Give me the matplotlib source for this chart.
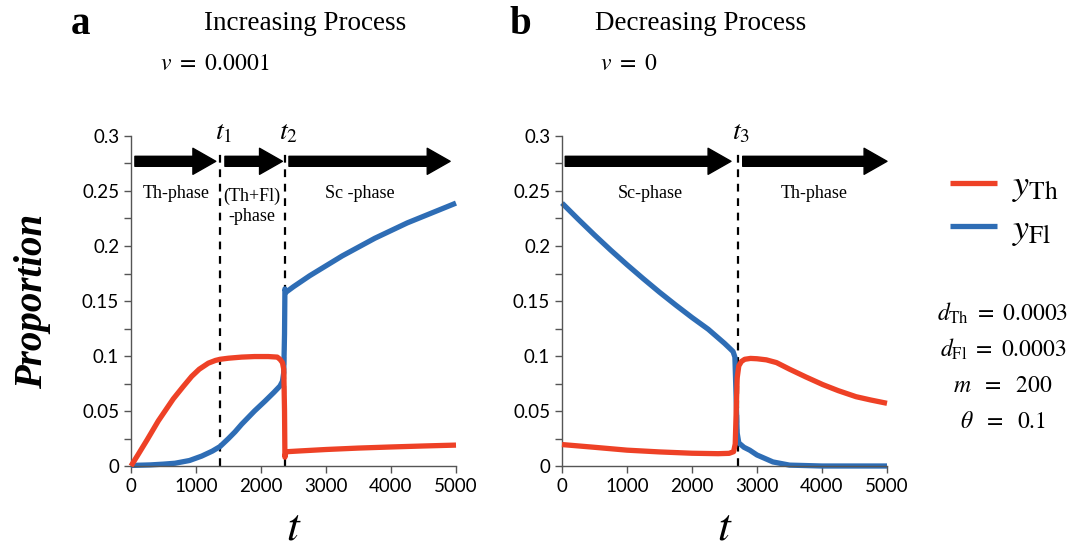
import numpy as np
import matplotlib.pyplot as plt

plt.rcParams['mathtext.fontset'] = 'stix'
plt.rcParams['font.family'] = ['Lato', 'DejaVu Sans']

# ---- data ----
# increasing process (v = 0.0001)
t_inc_th = [0, 100, 250, 420, 650, 800, 934, 1050, 1190, 1300, 1370, 1500, 1703, 1900, 2113, 2250, 2292, 2330, 2350,
            2362, 2368, 2380, 2395, 2600, 3000, 3500, 4000, 4500, 5000]
y_inc_th = [0, 0.0095, 0.024, 0.041, 0.061, 0.072, 0.0815, 0.088, 0.0935, 0.096, 0.097, 0.098, 0.099, 0.0995, 0.0995,
            0.099, 0.097, 0.094, 0.088, 0.05, 0.008, 0.012, 0.013, 0.0137, 0.015, 0.0163, 0.0173, 0.0182, 0.019]
t_inc_fl = [0, 300, 500, 677, 900, 1087, 1250, 1370, 1500, 1600, 1703, 1900, 2062, 2200, 2292, 2330, 2350, 2362, 2368,
            2385, 2500, 2750, 3000, 3250, 3500, 3750, 4000, 4250, 4500, 4750, 5000]
y_inc_fl = [0.0005, 0.001, 0.0017, 0.0025, 0.005, 0.009, 0.0135, 0.0177, 0.025, 0.031, 0.038, 0.05, 0.059, 0.067,
            0.0727, 0.077, 0.085, 0.12, 0.161, 0.158, 0.163, 0.173, 0.182, 0.191, 0.199, 0.207, 0.214, 0.221, 0.227,
            0.233, 0.239]

# decreasing process (v = 0)
t_dec_th = [0, 500, 1000, 1500, 2000, 2400, 2570, 2640, 2665, 2680, 2695, 2720, 2760, 2811, 2900, 3000, 3144, 3300,
            3501, 3750, 4012, 4250, 4524, 4750, 5000]
y_dec_th = [0.0195, 0.017, 0.0144, 0.0128, 0.0116, 0.0112, 0.0115, 0.013, 0.02, 0.05, 0.08, 0.091, 0.095, 0.097,
            0.0978, 0.0975, 0.0965, 0.094, 0.088, 0.081, 0.074, 0.0685, 0.063, 0.06, 0.057]
t_dec_fl = [0, 250, 500, 750, 1000, 1250, 1500, 1750, 2000, 2250, 2500, 2580, 2632, 2660, 2680, 2695, 2720, 2800,
            2888, 3000, 3245, 3500, 4000, 5000]
y_dec_fl = [0.239, 0.2243, 0.210, 0.1962, 0.183, 0.1703, 0.158, 0.1463, 0.135, 0.1243, 0.1115, 0.107, 0.104, 0.099,
            0.06, 0.03, 0.021, 0.017, 0.0144, 0.010, 0.0037, 0.0008, 0.0, 0.0]

t1, t2, t3 = 1370, 2370, 2700

red = '#EE4126'
blue = '#2E6DB5'
serif = ['Liberation Serif', 'DejaVu Serif']

fig = plt.figure(figsize=(10.84, 5.5), dpi=100)
ax1 = fig.add_axes([131 / 1084, 84 / 550, 325 / 1084, 330 / 550])
ax2 = fig.add_axes([562 / 1084, 84 / 550, 325 / 1084, 330 / 550])


def style(ax):
    ax.set_xlim(0, 5000)
    ax.set_ylim(0, 0.3)
    for s in ['top', 'right']:
        ax.spines[s].set_visible(False)
    for s in ['left', 'bottom']:
        ax.spines[s].set_color('#555555')
        ax.spines[s].set_linewidth(1.0)
    ax.set_xticks([0, 1000, 2000, 3000, 4000, 5000])
    ax.set_xticklabels(['0', '1000', '2000', '3000', '4000', '5000'])
    ax.set_yticks([0, 0.05, 0.1, 0.15, 0.2, 0.25, 0.3])
    ax.set_yticklabels(['0', '0.05', '0.1', '0.15', '0.2', '0.25', '0.3'])
    ax.set_yticks(np.arange(0.025, 0.3, 0.05), minor=True)
    ax.tick_params(which='both', direction='out', color='#555555', labelsize=13.5, width=1.0)
    ax.tick_params(which='major', length=5)
    ax.tick_params(which='minor', length=5)
    ax.set_xlabel('$t$', fontsize=33, labelpad=8)


def phase_arrow(ax, x0, x1, y=0.277):
    ax.annotate('', xy=(x1, y), xytext=(x0, y),
                arrowprops=dict(arrowstyle='simple,head_width=1.25,head_length=1.1,tail_width=0.48',
                                mutation_scale=15, color='black', shrinkA=0, shrinkB=0),
                annotation_clip=False)


def tline(ax, t, lab):
    ax.plot([t, t], [0, 0.287], ls=(0, (3.5, 3)), color='black', lw=1.6, zorder=1)
    ax.text(t + 50, 0.292, lab, fontsize=20, ha='center', va='bottom')


style(ax1)
style(ax2)

l1, = ax1.plot(t_inc_th, y_inc_th, color=red, lw=3.8, clip_on=False, zorder=3, solid_capstyle='butt')
l2, = ax1.plot(t_inc_fl, y_inc_fl, color=blue, lw=3.8, clip_on=False, zorder=2, solid_capstyle='butt')
ax2.plot(t_dec_fl, y_dec_fl, color=blue, lw=3.8, clip_on=False, zorder=2, solid_capstyle='butt')
ax2.plot(t_dec_th, y_dec_th, color=red, lw=3.8, clip_on=False, zorder=3, solid_capstyle='butt')

tline(ax1, t1, '$t_1$')
tline(ax1, t2, '$t_2$')
tline(ax2, t3, '$t_3$')

gap = 65
phase_arrow(ax1, 60, t1 - gap)
phase_arrow(ax1, t1 + 75, t2 - 40)
phase_arrow(ax1, t2 + 60, 4910)
phase_arrow(ax2, 50, t3 - 100)
phase_arrow(ax2, t3 + 80, 5000)

ax1.text(700, 0.248, 'Th-phase', family=serif, fontsize=13, ha='center', va='center')
ax1.text(1860, 0.236, '(Th+Fl)\n-phase', family=serif, fontsize=13, ha='center', va='center', linespacing=1.2)
ax1.text(3520, 0.248, 'Sc -phase', family=serif, fontsize=13, ha='center', va='center')
ax2.text(1355, 0.248, 'Sc-phase', family=serif, fontsize=13, ha='center', va='center')
ax2.text(3885, 0.248, 'Th-phase', family=serif, fontsize=13, ha='center', va='center')

ax1.set_ylabel('Proportion', family=serif, fontsize=28, fontweight='bold', style='italic', labelpad=22)

# titles
fig.text(80 / 1084, 1 - 24 / 550, 'a', family=serif, fontsize=28, fontweight='bold', ha='center', va='center')
fig.text(305 / 1084, 1 - 24 / 550, 'Increasing Process', family=serif, fontsize=19.5, ha='center', va='center')
fig.text(160 / 1084, 1 - 63 / 550, r'$v\ =\ 0.0001$', fontsize=17, ha='left', va='center')
fig.text(520 / 1084, 1 - 24 / 550, 'b', family=serif, fontsize=28, fontweight='bold', ha='center', va='center')
fig.text(701 / 1084, 1 - 24 / 550, 'Decreasing Process', family=serif, fontsize=19.5, ha='center', va='center')
fig.text(600 / 1084, 1 - 63 / 550, r'$v\ =\ 0$', fontsize=17, ha='left', va='center')

# legend
fig.legend([l1, l2], [r'$y_{\mathrm{Th}}$', r'$y_{\mathrm{Fl}}$'], loc='center left',
           bbox_to_anchor=(950 / 1084, 1 - 208 / 550), frameon=False, fontsize=26,
           borderpad=0, borderaxespad=0, handlelength=1.3, handletextpad=0.42, labelspacing=0.2)

# parameters
params = [r'$d_{\mathrm{Th}}\ =\ 0.0003$', r'$d_{\mathrm{Fl}}\ =\ 0.0003$', r'$m\ \ =\ \ 200$',
          r'$\theta\ \ =\ \ 0.1$']
for i, p in enumerate(params):
    fig.text(1003 / 1084, 1 - (313 + 36 * i) / 550, p, fontsize=17, ha='center', va='center')

fig.savefig('out.png', dpi=100)
